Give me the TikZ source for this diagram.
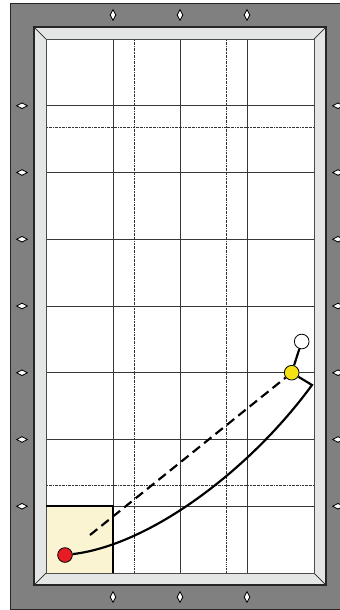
\documentclass[tikz,border=0pt]{standalone}
\usepackage{tikz}
\usetikzlibrary{positioning,calc,shapes.geometric}
\definecolor{RailC}{RGB}{128,128,128}
\definecolor{CushC}{RGB}{228,230,230}
\definecolor{ZoneC}{RGB}{250,244,210}
\definecolor{RedC}{RGB}{232,28,36}
\definecolor{YelC}{RGB}{246,226,20}
\definecolor{LineC}{RGB}{55,55,55}
\tikzset{
  rail/.style={fill=RailC,draw=black!85,line width=0.8pt},
  cush/.style={fill=CushC,draw=black!85,line width=0.9pt},
  gridln/.style={LineC,line width=0.85pt},
  dotln/.style={black!80,line width=0.55pt,dash pattern=on 1.6pt off 0.8pt on 0.5pt off 0.8pt},
  sightv/.style={diamond,draw=black,fill=white,line width=0.7pt,inner sep=0pt,
                 minimum width=1.8mm,minimum height=3.3mm},
  sighth/.style={sightv,minimum width=3.3mm,minimum height=1.8mm},
  ball/.style={circle,draw=black,line width=0.7pt,minimum size=4.4mm,inner sep=0pt},
  shot/.style={line width=1.85pt,black},
  aimln/.style={shot,dash pattern=on 8pt off 4.5pt},
}

\begin{document}
\begin{tikzpicture}[x=0.3mm,y=-0.3mm]
  \clip (0,0) rectangle (340,610);
  \draw[rail] (10,3) rectangle (350,609);
  \draw[cush] (34,27) rectangle (326,585);
  \fill[white] (46,39) rectangle (314,573);
  \draw[black!85,line width=0.6pt] (34,27) -- (46,39) (326,27) -- (314,39)
                                   (34,585) -- (46,573) (326,585) -- (314,573);
  \fill[ZoneC] (46,506.25) rectangle (113,573);
  \foreach \x in {113,180,247}
    \draw[gridln] (\x,39) -- (\x,573);
  \foreach \k in {1,...,7}
    \draw[gridln] (46,39+66.75*\k) -- (314,39+66.75*\k);
  \foreach \x in {134,226}
    \draw[dotln] (\x,39) -- (\x,573);
  \foreach \y in {127,485}
    \draw[dotln] (46,\y) -- (314,\y);
  \draw[black!70,line width=0.6pt] (46,39) rectangle (314,573);
  \draw[shot] (46,506.25) -- (113,506.25) -- (113,573);

  \foreach \x [count=\i] in {113,180,247} {
    \node[sightv] (top\i) at (\x,15) {};
    \node[sightv] (bot\i) at (\x,597) {};
  }
  \foreach \k in {1,...,7} {
    \node[sighth] (lft\k) at (22,39+66.75*\k) {};
    \node[sighth] (rgt\k) at (338,39+66.75*\k) {};
  }

  \node[ball,fill=RedC] (red) at (65,555) {};
  \node[ball,fill=YelC] (yel) at (291.7,372.7) {};
  \node[ball,fill=white] (cue) at (301.7,341.5) {};
  \coordinate (kink) at (312,385);
  \coordinate (aim) at (90,535);

  \draw[shot] (red) .. controls (150,545) and (250,470) .. (kink) -- (yel);
  \draw[shot] (yel) -- (cue);
  \draw[aimln] (aim) -- (yel);
\end{tikzpicture}
\end{document}
